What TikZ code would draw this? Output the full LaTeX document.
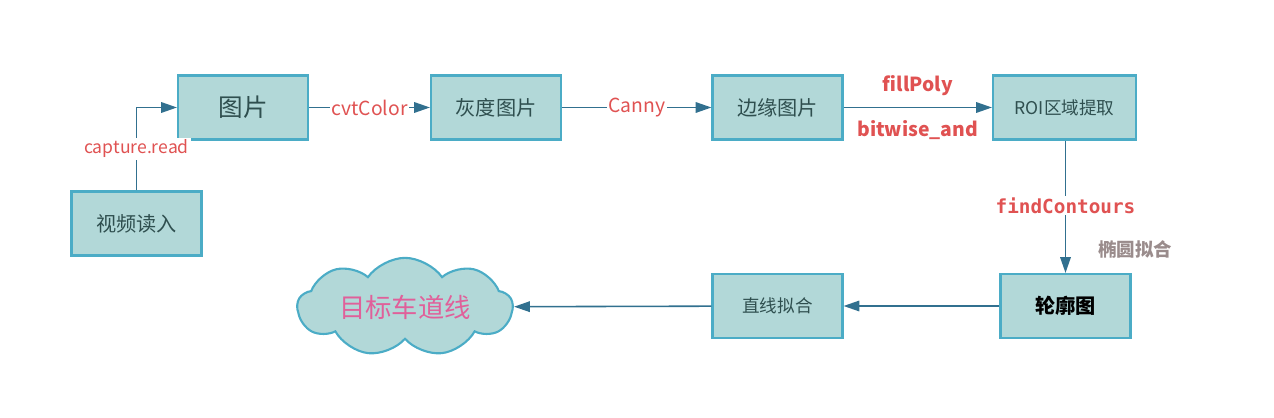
\documentclass[tikz,border=0pt]{standalone}
\usepackage{fontspec}
\setmainfont{Noto Sans CJK SC}
\newfontfamily\monofont{DejaVu Sans Mono}
\usepackage{tikz}
\usetikzlibrary{positioning, shapes.symbols, arrows.meta}

\definecolor{boxfill}{HTML}{B2D8D8}
\definecolor{boxline}{HTML}{4BACC6}
\definecolor{flow}{HTML}{31708F}
\definecolor{opred}{HTML}{E05252}
\definecolor{boxtext}{HTML}{2F4F4F}
\definecolor{goal}{HTML}{E0609A}
\definecolor{notegray}{HTML}{9A8C8C}

\begin{document}
\begin{tikzpicture}[x=0.02cm, y=-0.02cm,
    stage/.style={draw=boxline, line width=1.2pt, fill=boxfill, text=boxtext, minimum width=2.6cm, minimum height=1.28cm, font=\fontsize{11.5}{13}\selectfont},
    link/.style={draw=flow, line width=0.9pt, -{Triangle[length=9pt, width=6pt]}},
    op/.style={text=opred, fill=white, inner sep=1pt, font=\fontsize{11}{13}\selectfont}]
    \useasboundingbox (0,0) rectangle (1274,418);
    % top row
    \node [stage] (video) at (136.5, 223.5) {视频读入};
    \node [stage, font=\fontsize{14}{16}\selectfont] (image) at (243, 107.5) {图片};
    \node [stage] (gray) at (496, 107.5) {灰度图片};
    \node [stage] (edge) at (777.5, 107.5) {边缘图片};
    \node [stage, minimum width=2.86cm, font=\fontsize{10}{12}\selectfont] (roi) at (1064.5, 107.5) {ROI区域提取};
    % bottom row
    \node [stage, font=\bfseries\fontsize{11.5}{13}\selectfont, text=black] (contour) at (1065.5, 306) {轮廓图};
    \node [stage, font=\fontsize{10}{12}\selectfont] (linefit) at (777.5, 306) {直线拟合};
    \node [cloud, cloud puffs=9, cloud puff arc=110, aspect=2.8, inner sep=1pt, draw=boxline, line width=1.2pt, fill=boxfill, text=goal, minimum width=4.3cm, minimum height=1.4cm, font=\fontsize{15}{17}\selectfont] (lane) at (405, 307) {目标车道线};

    \draw [link] (video.north) |- (image.west) node [op, pos=0.25, font=\fontsize{10}{12}\selectfont] {capture.read};
    \draw [link] (image) -- (gray) node [op, midway] {cvtColor};
    \draw [link] (gray) -- (edge) node [op, midway] {Canny};
    \draw [link] (edge) -- (roi)
        node [op, midway, above=5pt, font=\bfseries\fontsize{11}{13}\selectfont] {fillPoly}
        node [op, midway, below=6pt, font=\bfseries\fontsize{11}{13}\selectfont] {bitwise\_and};
    \draw [link] (roi.south -| contour.north) -- (contour.north) node [op, pos=0.49, font=\monofont\bfseries\fontsize{11}{13}\selectfont] {findContours};
    \node [text=notegray, font=\bfseries\fontsize{10.5}{12}\selectfont] (ellipse) at (1135, 249) {椭圆拟合};
    \draw [link] (contour) -- (linefit);
    \draw [link] (linefit) -- (lane);
\end{tikzpicture}
\end{document}
